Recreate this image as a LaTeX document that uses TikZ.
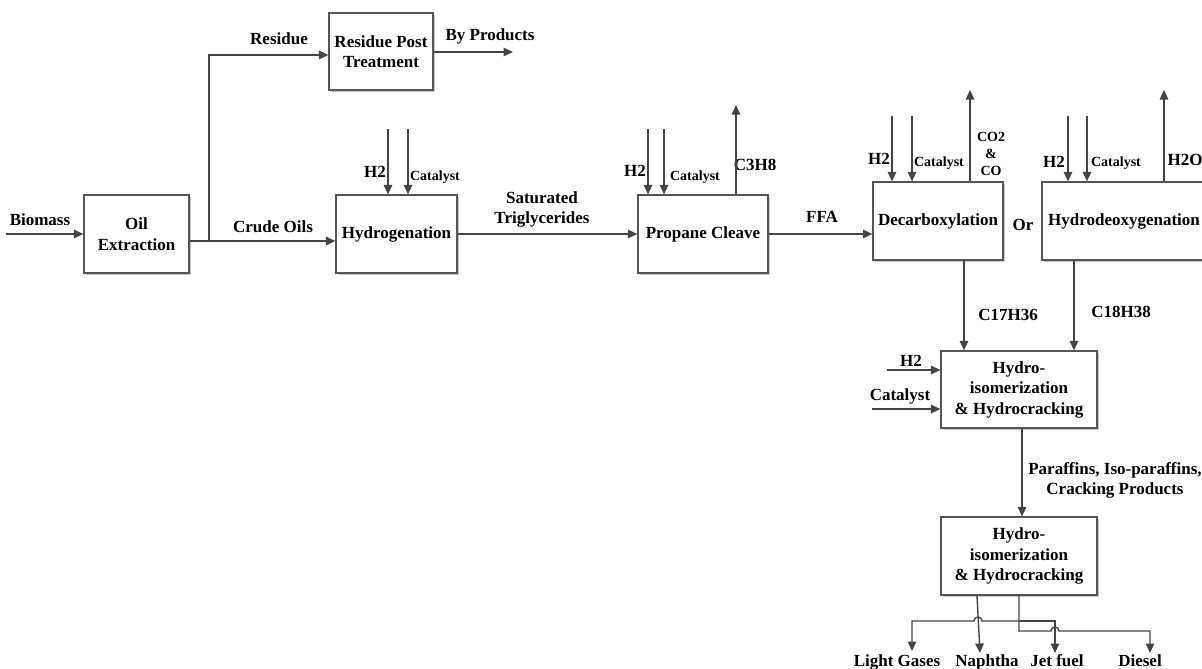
\documentclass[tikz,border=0pt]{standalone}
\usepackage{fontspec}
\setmainfont{Liberation Serif}
\usetikzlibrary{arrows.meta,shadows,calc}
\definecolor{lncol}{HTML}{444444}
\definecolor{bxcol}{HTML}{555555}
\begin{document}
\begin{tikzpicture}[x=1pt,y=-1pt,
  every node/.style={font=\bfseries\fontsize{17}{20.5}\selectfont, text=black},
  box/.style={draw=bxcol, line width=1.2pt, fill=white, rectangle, inner sep=0pt, align=center,
    drop shadow={shadow xshift=1.6pt, shadow yshift=-1.6pt, fill=black!22, opacity=1}},
  lbl/.style={inner sep=0pt, text height=11.5pt, text depth=0pt},
  slbl/.style={inner sep=0pt, font=\bfseries\fontsize{14}{17}\selectfont, text height=9.5pt, text depth=0pt},
  mlbl/.style={inner sep=0pt, align=center},
  smlbl/.style={inner sep=0pt, align=center, font=\bfseries\fontsize{14}{17}\selectfont},
  wire/.style={draw=lncol, line width=1.4pt},
  arr/.style={draw=lncol, line width=1.4pt, -{Triangle[length=9.5pt,width=8.5pt]}},
]
\useasboundingbox (0,0) rectangle (1202,669);
\clip (0,0) rectangle (1202,669);

% ---------- boxes ----------
\node[box, minimum width=105pt, minimum height=78pt] (oil) at (136.5,234) {Oil\\Extraction};
\node[box, minimum width=104pt, minimum height=77pt] (res) at (381,51.5) {Residue Post\\Treatment};
\node[box, minimum width=121pt, minimum height=78pt] (hyd) at (396.5,234) {Hydrogenation};
\node[box, minimum width=130pt, minimum height=78pt] (prop) at (703,234) {Propane Cleave};
\node[box, minimum width=130pt, minimum height=78pt] (dec) at (938,221) {Decarboxylation};
\node[box, minimum width=164pt, minimum height=78pt] (hdo) at (1124,221) {Hydrodeoxygenation};
\node[box, minimum width=156pt, minimum height=77pt] (hi1) at (1019,389.5) {Hydro-\\isomerization\\\& Hydrocracking};
\node[box, minimum width=156pt, minimum height=78pt] (hi2) at (1019,556) {Hydro-\\isomerization\\\& Hydrocracking};

% ---------- labels ----------
\node[lbl] (bio) at (40,220) {Biomass};
\node[lbl] (crude) at (273,227) {Crude Oils};
\node[lbl] (resl) at (279,39) {Residue};
\node[lbl] (byp) at (490,35) {By Products};
\node[lbl] (h2a) at (375,172) {H2};
\node[slbl] (cata) at (435,176) {Catalyst};
\node[mlbl, font=\bfseries\fontsize{17}{19.5}\selectfont] (sat) at (542,209.4) {Saturated\\Triglycerides};
\node[lbl] (h2b) at (635,171) {H2};
\node[slbl] (catb) at (695,176) {Catalyst};
\node[lbl] (c3h8) at (755,165) {C3H8};
\node[lbl] (ffa) at (822,217) {FFA};
\node[lbl] (h2c) at (879,159) {H2};
\node[slbl] (catc) at (939,162) {Catalyst};
\node[smlbl] (co) at (991,154) {CO2\\\&\\CO};
\node[lbl] (orl) at (1023,225) {Or};
\node[lbl] (h2d) at (1054,162) {H2};
\node[slbl] (catd) at (1116,162) {Catalyst};
\node[lbl] (h2o) at (1185,160) {H2O};
\node[lbl] (c17) at (1008,315) {C17H36};
\node[lbl] (c18) at (1121,312) {C18H38};
\node[lbl] (h2e) at (911,361) {H2};
\node[lbl] (cate) at (900,395) {Catalyst};
\node[mlbl, font=\bfseries\fontsize{17}{20}\selectfont] (par) at (1115,480) {Paraffins, Iso-paraffins,\\Cracking Products};
\node[lbl] (lg) at (897,661) {Light Gases};
\node[lbl] (nap) at (987,661) {Naphtha};
\node[lbl] (jet) at (1057,661) {Jet fuel};
\node[lbl] (dsl) at (1140,661) {Diesel};

% ---------- free ends and guide coordinates ----------
\coordinate (bioS) at (6,234);
\coordinate (j1) at (209,241);
\coordinate (byE) at (513,52);
\coordinate (ia1) at (388,129);
\coordinate (ia2) at (408,129);
\coordinate (ib1) at (648,129);
\coordinate (ib2) at (664,129);
\coordinate (ob) at (736,105);
\coordinate (ic1) at (892,116);
\coordinate (ic2) at (912,116);
\coordinate (oc) at (970,90);
\coordinate (id1) at (1068,116);
\coordinate (id2) at (1087,116);
\coordinate (od) at (1164,90);
\coordinate (x964) at (964,0);
\coordinate (x1074) at (1074,0);
\coordinate (x1022) at (1022,0);
\coordinate (ie1) at (887,370);
\coordinate (ie2) at (872,409);
\coordinate (x977) at (977,0);
\coordinate (jn) at (1019,621);
\coordinate (lgE) at (912,651);
\coordinate (napE) at (980,653);
\coordinate (jetE) at (1055,653);
\coordinate (dslE) at (1150,653);

% ---------- connectors ----------
\draw[arr] (bioS) -- (oil.west);
\draw[arr] ([yshift=-7pt]oil.east) -- ([yshift=-7pt]hyd.west);
\draw[arr] (j1) |- ([yshift=-3.5pt]res.west);
\draw[arr] (res.east |- byE) -- (byE);
\draw[arr] (ia1) -- (ia1 |- hyd.north);
\draw[arr] (ia2) -- (ia2 |- hyd.north);
\draw[arr] (hyd.east) -- (prop.west);
\draw[arr] (ib1) -- (ib1 |- prop.north);
\draw[arr] (ib2) -- (ib2 |- prop.north);
\draw[arr] (ob |- prop.north) -- (ob);
\draw[arr] (prop.east) -- (prop.east -| dec.west);
\draw[arr] (ic1) -- (ic1 |- dec.north);
\draw[arr] (ic2) -- (ic2 |- dec.north);
\draw[arr] (oc |- dec.north) -- (oc);
\draw[arr] (id1) -- (id1 |- hdo.north);
\draw[arr] (id2) -- (id2 |- hdo.north);
\draw[arr] (od |- hdo.north) -- (od);
\draw[arr] (dec.south -| x964) -- (hi1.north -| x964);
\draw[arr] (hdo.south -| x1074) -- (hi1.north -| x1074);
\draw[arr] (ie1) -- (ie1 -| hi1.west);
\draw[arr] (ie2) -- (ie2 -| hi1.west);
\draw[arr] (hi1.south -| x1022) -- (hi2.north -| x1022);

% outputs
\draw[arr] (hi2.south -| x977) -- (napE);
\draw[arr] (hi2.south -| jn) -- (1019,631) -- (1051,631)
  .. controls (1051,625.7) and (1059,625.7) .. (1059,631) -- (dslE |- 0,631) -- (dslE);
\draw[arr] (jn) -- (982,621) .. controls (982,615.7) and (974,615.7) .. (974,621) -- (lgE |- 0,621) -- (lgE);
\draw[arr] (jn) -- (jetE |- 0,621) -- (jetE);
\end{tikzpicture}
\end{document}
